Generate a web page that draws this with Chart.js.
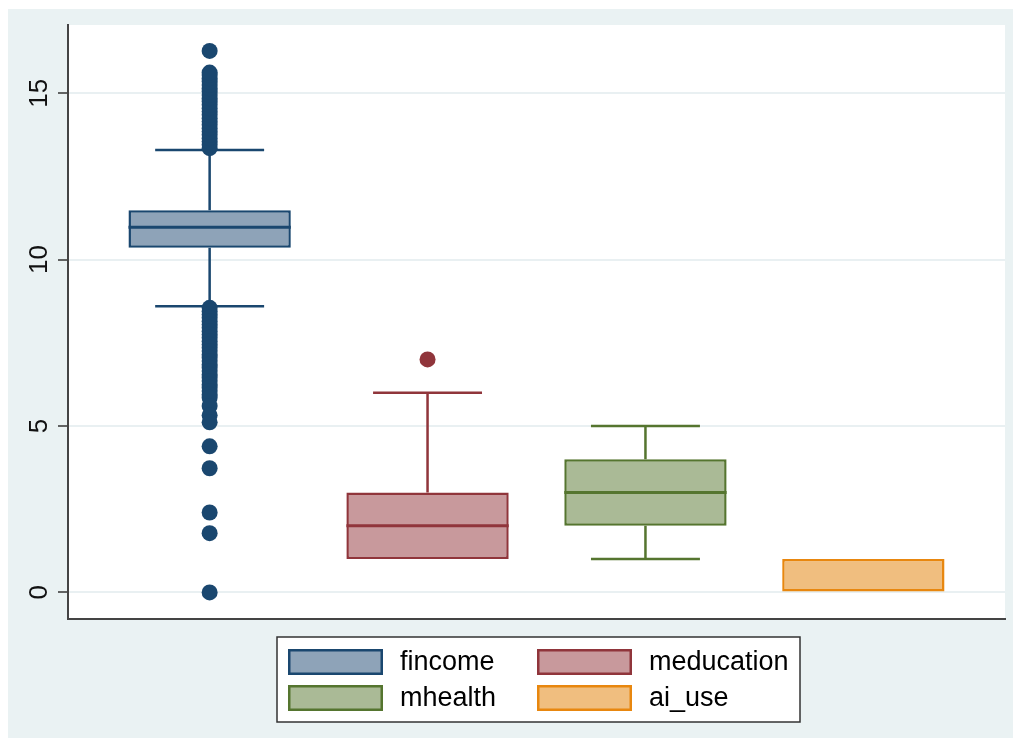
<!DOCTYPE html>
<html>
<head>
<meta charset="utf-8">
<script src="https://cdn.jsdelivr.net/npm/chart.js@4/dist/chart.umd.min.js"></script>
<style>
  body { margin: 0; background: #fff; }
  canvas { display: block; }
</style>
</head>
<body>
<canvas id="c" width="1013" height="738"></canvas>
<script>
// box plot summary per variable
const categories = ['fincome', 'meducation', 'mhealth', 'ai_use'];
const q1 = [10.36, 1, 2, 0];
const median = [10.97, 2, 3, 0];
const q3 = [11.48, 3, 4, 1];
const whiskerLow = [8.6, 1, 1, 0];
const whiskerHigh = [13.29, 6, 5, 1];

// outside values
const fincomeOutliers = [
  13.35, 13.45, 13.55, 13.65, 13.75, 13.85, 13.95, 14.05, 14.15, 14.25,
  14.35, 14.45, 14.55, 14.65, 14.75, 14.85, 14.95, 15.05, 15.15, 15.25,
  15.35, 15.45, 15.55, 15.62, 16.27,
  8.55, 8.45, 8.35, 8.25, 8.15, 8.05, 7.95, 7.85, 7.75, 7.65, 7.55, 7.45,
  7.35, 7.25, 7.15, 7.05, 6.95, 6.85, 6.75, 6.65, 6.55, 6.45, 6.35, 6.25,
  6.15, 6.05, 5.95, 5.85, 5.6, 5.32, 5.11, 4.39, 3.73, 2.4, 1.78, 0
];
const meducationOutliers = [7];
const mhealthOutliers = [];
const aiUseOutliers = [];

const yTicks = [0, 5, 10, 15];

const lineColors = ['rgb(26,71,111)', 'rgb(144,53,59)', 'rgb(85,117,47)', 'rgb(232,135,15)'];
const fillColors = ['rgb(142,163,184)', 'rgb(200,153,156)', 'rgb(170,186,150)', 'rgb(240,190,127)'];

const outlierLists = [fincomeOutliers, meducationOutliers, mhealthOutliers, aiUseOutliers];

const boxSets = categories.map((name, i) => ({
  type: 'bar',
  label: name,
  data: [{ x: i + 1, y: [q1[i], q3[i]] }],
  backgroundColor: fillColors[i],
  borderColor: lineColors[i],
  borderWidth: 2.5,
  borderSkipped: false,
  grouped: false,
  barPercentage: 0.745,
  categoryPercentage: 1,
  order: 2
}));

const outlierSets = categories.map((name, i) => ({
  type: 'scatter',
  label: name + ' outside',
  data: outlierLists[i].map(v => ({ x: i + 1, y: v })),
  pointRadius: 8,
  pointHoverRadius: 8,
  pointBackgroundColor: lineColors[i],
  pointBorderWidth: 0,
  showLine: false,
  order: 1
}));

const bgPlugin = {
  id: 'bg',
  beforeDraw(chart) {
    const { ctx, chartArea: a } = chart;
    ctx.save();
    ctx.fillStyle = 'rgb(234,242,243)';
    ctx.fillRect(8, 9, chart.width - 8, chart.height - 9);
    ctx.fillStyle = '#fff';
    ctx.fillRect(a.left, a.top, a.right - a.left, a.bottom - a.top);
    ctx.restore();
  }
};

const boxPlugin = {
  id: 'boxparts',
  beforeDatasetsDraw(chart) {
    const { ctx, scales: { x, y } } = chart;
    ctx.save();
    ctx.lineWidth = 2.5;
    categories.forEach((c, i) => {
      const cx = x.getPixelForValue(i + 1);
      const l = x.getPixelForValue(i + 1 - 0.25);
      const r = x.getPixelForValue(i + 1 + 0.25);
      ctx.strokeStyle = lineColors[i];
      [[whiskerHigh[i], q3[i]], [whiskerLow[i], q1[i]]].forEach(([w, q]) => {
        if (w === q) return;
        const wy = y.getPixelForValue(w);
        ctx.beginPath();
        ctx.moveTo(cx, y.getPixelForValue(q));
        ctx.lineTo(cx, wy);
        ctx.moveTo(l, wy);
        ctx.lineTo(r, wy);
        ctx.stroke();
      });
    });
    ctx.restore();
  },
  afterDatasetsDraw(chart) {
    const { ctx, scales: { y } } = chart;
    ctx.save();
    ctx.lineWidth = 3;
    categories.forEach((c, i) => {
      if (median[i] === q1[i] || median[i] === q3[i]) return;
      const bar = chart.getDatasetMeta(i).data[0];
      const half = bar.width / 2;
      const my = y.getPixelForValue(median[i]);
      ctx.strokeStyle = lineColors[i];
      ctx.beginPath();
      ctx.moveTo(bar.x - half, my);
      ctx.lineTo(bar.x + half, my);
      ctx.stroke();
    });
    ctx.restore();
  }
};

// Stata-like framed legend, 2 columns
const legendPlugin = {
  id: 'boxlegend',
  afterDraw(chart) {
    const ctx = chart.ctx;
    const left = 277, top = 637, w = 523, h = 85;
    ctx.save();
    ctx.fillStyle = '#fff';
    ctx.fillRect(left, top, w, h);
    ctx.strokeStyle = '#333';
    ctx.lineWidth = 1.5;
    ctx.strokeRect(left, top, w, h);
    ctx.font = '27px "Liberation Sans", Arial, sans-serif';
    ctx.textBaseline = 'middle';
    categories.forEach((name, i) => {
      const col = i % 2, row = Math.floor(i / 2);
      const sx = left + 11 + col * 249;
      const sy = top + 12 + row * 36;
      ctx.fillStyle = fillColors[i];
      ctx.fillRect(sx, sy, 95, 26);
      ctx.strokeStyle = lineColors[i];
      ctx.lineWidth = 2.5;
      ctx.strokeRect(sx + 1.25, sy + 1.25, 92.5, 23.5);
      ctx.fillStyle = '#000';
      ctx.fillText(name, sx + 112, sy + 14);
    });
    ctx.restore();
  }
};

new Chart(document.getElementById('c'), {
  type: 'bar',
  data: { datasets: [...boxSets, ...outlierSets] },
  options: {
    responsive: false,
    animation: false,
    events: [],
    layout: { padding: { top: 25, right: 5, bottom: 119, left: 0 } },
    plugins: {
      legend: { display: false },
      tooltip: { enabled: false }
    },
    scales: {
      x: {
        type: 'linear',
        min: 0.35,
        max: 4.65,
        offset: false,
        // one tick per box so bar width follows the box spacing
        afterBuildTicks(s) { s.ticks = categories.map((c, i) => ({ value: i + 1 })); },
        ticks: { display: false },
        grid: { display: false, drawTicks: false },
        border: { display: true, color: '#444', width: 2 },
        afterFit(s) { s.height = 0; }
      },
      y: {
        type: 'linear',
        min: -0.8,
        max: 17.05,
        afterBuildTicks(s) { s.ticks = yTicks.map(v => ({ value: v })); },
        ticks: {
          minRotation: 90,
          maxRotation: 90,
          crossAlign: 'center',
          padding: 4,
          color: '#111',
          font: { family: '"Liberation Sans", Arial, sans-serif', size: 26 }
        },
        grid: {
          color: 'rgb(233,240,242)',
          lineWidth: 2,
          tickColor: '#333',
          tickLength: 10,
          tickWidth: 1.5
        },
        border: { display: true, color: '#444', width: 2 },
        afterFit(s) { s.width = 68; }
      }
    }
  },
  plugins: [bgPlugin, boxPlugin, legendPlugin]
});
</script>
</body>
</html>
